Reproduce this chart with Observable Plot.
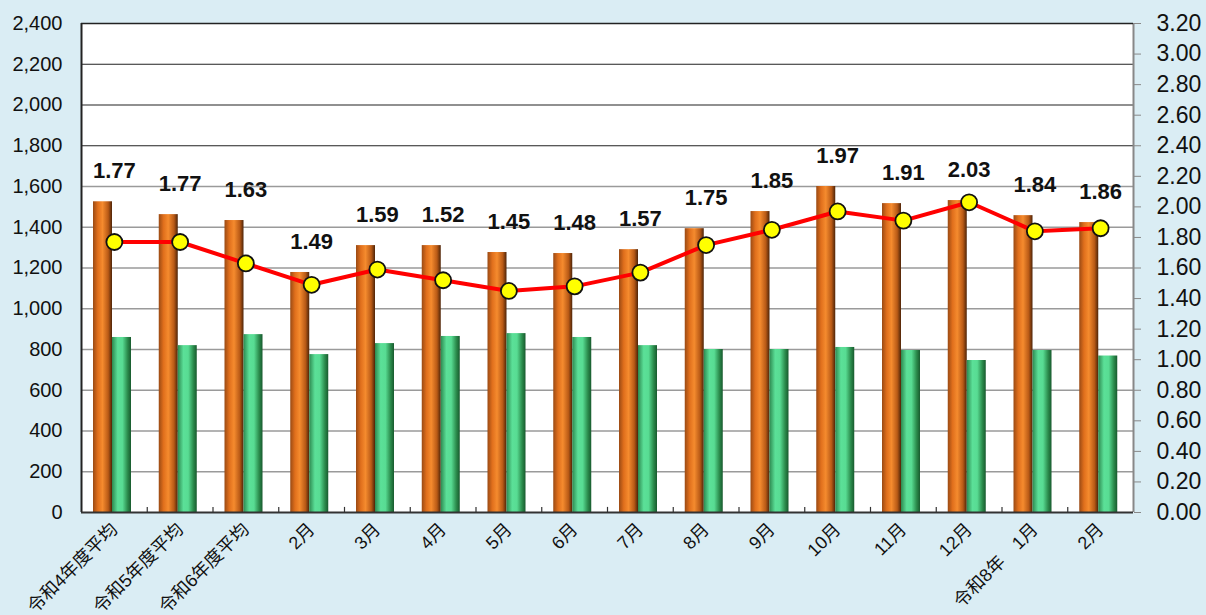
<!DOCTYPE html>
<html>
<head>
<meta charset="utf-8">
<script src="https://cdn.jsdelivr.net/npm/d3@7"></script>
<script src="https://cdn.jsdelivr.net/npm/@observablehq/plot@0.6"></script>
<style>
  html, body { margin: 0; padding: 0; background: #daedf4; }
  #chart svg { display: block; }
</style>
</head>
<body>
<div id="chart"></div>
<script>
const categories = ["令和4年度平均","令和5年度平均","令和6年度平均","2月","3月","4月","5月","6月","7月","8月","9月","10月","11月","12月","令和8年　1月","2月"];
const seriesA = [1525, 1462, 1433, 1178, 1310, 1310, 1276, 1271, 1290, 1393, 1477, 1600, 1516, 1531, 1457, 1423];
const seriesB = [859, 819, 873, 775, 829, 864, 878, 859, 819, 800, 800, 810, 795, 746, 795, 768];
const ratio = [1.77, 1.77, 1.63, 1.49, 1.59, 1.52, 1.45, 1.48, 1.57, 1.75, 1.85, 1.97, 1.91, 2.03, 1.84, 1.86];
const leftTicks = [0, 200, 400, 600, 800, 1000, 1200, 1400, 1600, 1800, 2000, 2200, 2400];
const rightTicks = [0, 0.2, 0.4, 0.6, 0.8, 1.0, 1.2, 1.4, 1.6, 1.8, 2.0, 2.2, 2.4, 2.6, 2.8, 3.0, 3.2];

const leftMax = 2400, rightMax = 3.2, k = leftMax / rightMax;
const idx = categories.map((_, i) => i);
const rows = idx.map(i => ({i, a: seriesA[i], b: seriesB[i], r: ratio[i]}));

const W = 1206, H = 615, mL = 81, mR = 73, mT = 23, mB = 103;
const bw = (W - mL - mR) / categories.length;
const font = "'Liberation Sans', Arial, 'Noto Sans CJK JP', sans-serif";

const chart = Plot.plot({
  width: W, height: H,
  marginLeft: mL, marginRight: mR, marginTop: mT, marginBottom: mB,
  style: {background: "#daedf4", fontFamily: font, color: "#111"},
  x: {type: "band", domain: idx, padding: 0, round: false, axis: null},
  y: {domain: [0, leftMax], axis: null},
  marks: [
    Plot.frame({fill: "white", stroke: "none"}),
    Plot.ruleY(leftTicks.filter(v => v > 0 && v <= 1600), {stroke: "#9a9a9a", strokeWidth: 1.5}),
    Plot.ruleY(leftTicks.filter(v => v > 1600), {stroke: "#222", strokeWidth: 1.2}),
    Plot.barY(rows, {x: "i", y: "a", fill: "url(#gOrange)", insetLeft: 12, insetRight: bw - 31}),
    Plot.barY(rows, {x: "i", y: "b", fill: "url(#gGreen)", insetLeft: 31, insetRight: bw - 50}),
    Plot.ruleX(idx.slice(1), {x: d => d, dx: -bw / 2, y1: 0, y2: 25, stroke: "#333", strokeWidth: 1.2}),
    Plot.ruleX([0], {x: () => 0, dx: -bw / 2, y1: 0, y2: leftMax, stroke: "#222", strokeWidth: 2}),
    Plot.ruleX([0], {x: () => categories.length - 1, dx: bw / 2, y1: 0, y2: leftMax, stroke: "#888", strokeWidth: 2}),
    Plot.ruleY([0], {stroke: "#333", strokeWidth: 2}),
    Plot.ruleY([leftMax], {stroke: "#222", strokeWidth: 1.5}),
    Plot.axisY(leftTicks, {anchor: "left", tickSize: 0, tickPadding: 19, fontSize: 20, label: null,
      tickFormat: d => d3.format(",")(d)}),
    Plot.axisY(rightTicks.map(v => v * k), {anchor: "right", tickSize: 7, tickPadding: 16, fontSize: 23,
      stroke: "#888", label: null, tickFormat: d => (d / k).toFixed(2)}),
    Plot.axisX(idx, {anchor: "bottom", tickSize: 0, tickPadding: 14, tickRotate: -45, fontSize: 18,
      label: null, tickFormat: i => categories[i]}),
    Plot.line(rows, {x: "i", y: d => d.r * k, stroke: "#ff0000", strokeWidth: 4}),
    Plot.dot(rows, {x: "i", y: d => d.r * k, r: 8, fill: "#ffff00", stroke: "#111", strokeWidth: 1.8}),
    Plot.text(rows, {x: "i", y: "a", text: d => d.r.toFixed(2), dy: -31, fontSize: 22, fontWeight: "bold",
      fill: "#111"})
  ]
});

const svg = d3.select(chart);
const defs = svg.insert("defs", ":first-child");
function grad(id, stops) {
  const g = defs.append("linearGradient").attr("id", id).attr("x1", 0).attr("x2", 1).attr("y1", 0).attr("y2", 0);
  stops.forEach(([o, c]) => g.append("stop").attr("offset", o).attr("stop-color", c));
}
grad("gOrange", [[0, "#9a4a14"], [0.25, "#e06f1c"], [0.5, "#f58b2e"], [0.8, "#b95a16"], [1, "#4e2408"]]);
grad("gGreen", [[0, "#2d8a50"], [0.3, "#5be098"], [0.55, "#58dc93"], [0.82, "#2b8b4c"], [1, "#185a2e"]]);

document.getElementById("chart").appendChild(chart);
</script>
</body>
</html>
